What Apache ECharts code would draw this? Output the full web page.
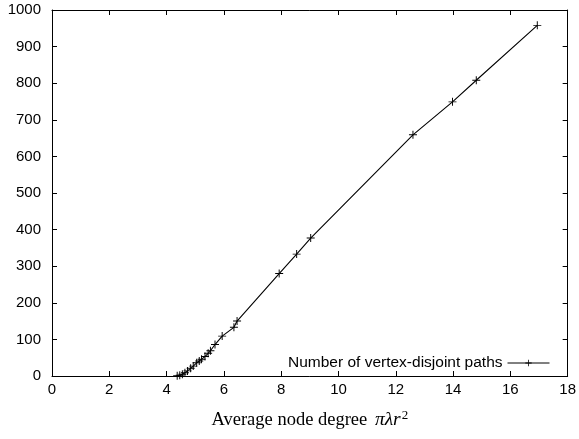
<!DOCTYPE html>
<html>
<head>
<meta charset="utf-8">
<script src="https://cdn.jsdelivr.net/npm/echarts@6/dist/echarts.min.js"></script>
<style>
  html, body { margin: 0; padding: 0; background: #fff; }
  #main { width: 579px; height: 439px; }
</style>
</head>
<body>
<div id="main"></div>
<script>
// average node degree (x) and number of vertex-disjoint paths (y)
var degree = [4.37, 4.46, 4.55, 4.64, 4.73, 4.84, 4.93, 5.05, 5.14, 5.22, 5.34, 5.45, 5.53, 5.69, 5.94, 6.35, 6.46, 7.93, 8.54, 9.03, 12.6, 13.98, 14.81, 16.94];
var paths  = [1, 2, 5, 9, 14, 21, 27, 36, 41, 46, 53, 62, 69, 86, 109, 133, 150, 280, 333, 377, 659, 749, 808, 958];
var seriesName = 'Number of vertex-disjoint paths';

var pts = degree.map(function (d, i) { return [d, paths[i]]; });
var plus = 'path://M4.4,0H5.6V4.4H10V5.6H5.6V10H4.4V5.6H0V4.4H4.4Z';

var chart = echarts.init(document.getElementById('main'));
var tickFont = { fontFamily: 'Liberation Sans', fontSize: 15, color: '#000' };
var tick = { show: true, inside: true, length: 5, lineStyle: { color: '#000', width: 1 } };
var line = { show: true, onZero: false, lineStyle: { color: '#000', width: 1 } };

chart.setOption({
  animation: false,
  grid: { left: 52, right: 11, top: 10, bottom: 63 },
  legend: {
    data: [seriesName],
    right: 24,
    bottom: 63,
    align: 'right',
    itemWidth: 42,
    itemHeight: 8,
    lineStyle: { width: 1 },
    textStyle: { fontFamily: 'Liberation Sans', fontSize: 15.5, color: '#000' }
  },
  xAxis: [{
    type: 'value', min: 0, max: 18, interval: 2,
    name: '{t|Average node degree }{m|πλr}{s|2}',
    nameLocation: 'middle', nameGap: 33,
    nameTextStyle: {
      rich: {
        t: { fontFamily: 'Liberation Serif', fontSize: 18.5, color: '#000' },
        m: { fontFamily: 'Liberation Serif', fontStyle: 'italic', fontSize: 19.5, color: '#000', padding: [0, 0, 0, 3] },
        s: { fontFamily: 'Liberation Serif', fontSize: 13, color: '#000', verticalAlign: 'bottom', padding: [0, 0, 9, 1] }
      }
    },
    axisLine: line,
    axisTick: tick,
    axisLabel: Object.assign({ margin: 6 }, tickFont),
    splitLine: { show: false }
  }, {
    type: 'value', position: 'top', min: 0, max: 18, interval: 2,
    axisLine: line,
    axisTick: tick,
    axisLabel: { show: false },
    splitLine: { show: false }
  }],
  yAxis: [{
    type: 'value', min: 0, max: 1000, interval: 100,
    axisLine: line,
    axisTick: tick,
    axisLabel: Object.assign({ margin: 11, formatter: function (v) { return String(v); } }, tickFont),
    splitLine: { show: false }
  }, {
    type: 'value', position: 'right', min: 0, max: 1000, interval: 100,
    axisLine: line,
    axisTick: tick,
    axisLabel: { show: false },
    splitLine: { show: false }
  }],
  series: [{
    name: seriesName,
    type: 'line',
    data: pts,
    symbol: plus,
    symbolSize: 8,
    showAllSymbol: true,
    lineStyle: { color: '#000', width: 1.1 },
    itemStyle: { color: '#000' }
  }, {
    type: 'line',
    xAxisIndex: 1,
    yAxisIndex: 1,
    data: [],
    silent: true
  }]
});
</script>
</body>
</html>
